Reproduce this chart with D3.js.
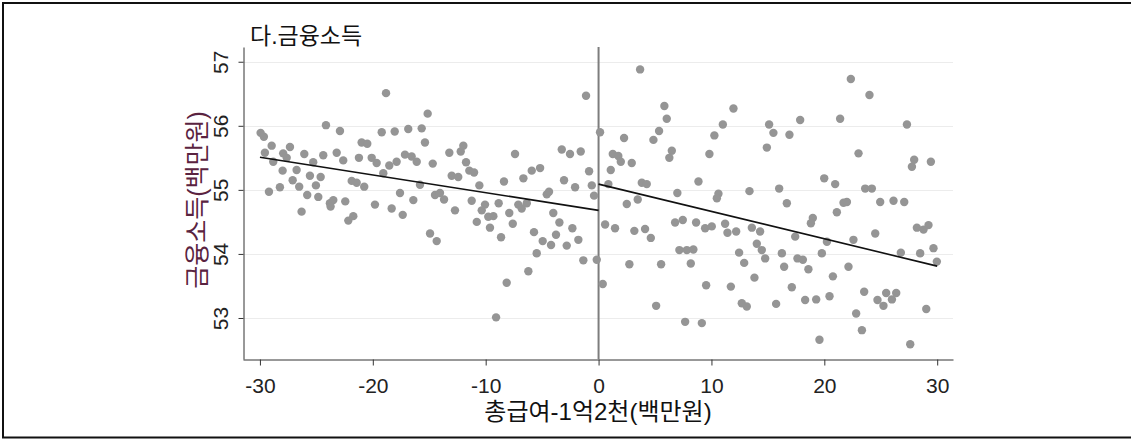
<!DOCTYPE html>
<html>
<head>
<meta charset="utf-8">
<script src="https://cdn.jsdelivr.net/npm/d3@7"></script>
<style>
  body { margin: 0; background: #fff; }
  svg { display: block; }
  .axis path, .axis line { stroke: #333; }
  .axis text { font-family: "Liberation Sans", Arial, sans-serif; font-size: 21px; fill: #222; }
</style>
</head>
<body>
<svg id="chart" width="1131" height="439"></svg>
<script>
// left of cutoff (x < 0)
var leftX = [-29.94,-29.65,-28.96,-29.56,-27.94,-27.34,-27.63,-28.82,-26.07,-25.28,
  -24.15,-22.91,-24.39,-23.20,-22.62,-21.23,-20.99,-20.49,-20.10,-19.66,
  -19.21,-18.83,-18.06,-16.86,-15.67,-15.14,-15.38,-19.07,-18.54,-17.89,
  -17.15,-16.56,-16.11,-14.69,-27.99,-26.75,-29.20,-28.23,-27.10,-26.52,
  -25.57,-24.62,-25.04,-25.81,-24.83,-23.80,-23.50,-23.74,-22.44,-26.31,
  -21.87,-21.43,-20.76,-21.73,-22.17,-19.81,-18.33,-17.35,-17.59,-16.41,
  -15.82,-14.49,-14.93,-14.34,-14.05,-13.69,-13.22,-12.21,-11.98,-11.74,
  -11.45,-11.03,-13.01,-12.43,-10.56,-12.72,-11.24,-10.79,-10.06,-10.35,
  -9.77,-9.32,-9.62,-8.85,-8.38,-7.91,-7.60,-8.64,-7.40,-6.66,
  -5.92,-5.18,-7.11,-6.81,-6.36,-4.59,-4.39,
  -4.01,-3.47,-5.72,-4.95,-4.21,-3.77,-5.48,-6.22,-8.14,-9.08,
  -3.26,-2.53,-1.58,-3.06,-2.08,-0.84,-0.60,-0.40,-1.11,-2.32,-1.79,-2.82,-1.35,-0.16];
var leftY = [55.89,55.83,55.69,55.58,55.57,55.67,55.50,55.44,55.56,55.43,
  56.01,55.92,55.54,55.58,55.46,55.50,55.74,55.72,55.50,55.42,
  55.90,56.51,55.91,55.95,55.96,56.19,55.74,55.26,55.38,55.44,
  55.55,55.52,55.44,55.41,55.30,55.31,54.97,55.04,55.15,55.05,
  55.22,55.20,55.07,54.92,54.89,54.79,54.84,54.74,54.82,54.66,
  55.14,55.11,55.05,54.59,54.52,54.77,54.71,54.61,54.95,54.84,
  55.08,54.92,54.32,54.20,54.95,54.85,55.58,55.60,55.69,55.43,
  55.30,55.27,55.22,55.20,55.07,54.68,54.83,54.50,54.77,54.68,
  54.58,54.59,54.41,54.79,55.13,54.64,54.47,54.26,55.56,55.18,
  55.30,55.34,54.77,54.71,54.79,54.93,54.97,
  54.64,54.49,54.34,54.20,54.14,54.30,54.01,53.73,53.55,53.01,
  55.63,55.56,55.60,55.15,55.04,55.29,55.07,54.91,56.47,54.40,54.22,54.13,53.90,53.91];

// right of cutoff (x >= 0)
var rightX = [0.13,0.37,0.58,1.46,1.08,1.26,0.87,3.68,2.26,1.75,
  1.97,2.94,2.50,3.47,3.83,4.27,3.17,4.12,4.63,2.73,
  5.54,5.10,5.83,6.04,5.36,4.86,6.49,6.27,6.98,6.78,
  7.46,7.16,7.82,8.40,8.17,7.67,9.15,8.64,9.44,10.03,
  8.85,9.82,10.26,11.01,11.95,10.62,10.48,9.53,11.21,11.42,
  12.19,12.45,12.90,11.72,12.69,13.13,13.37,13.58,14.31,14.02,
  14.46,14.76,13.81,15.11,14.91,15.49,16.91,17.86,21.40,22.35,
  24.00,27.32,23.03,27.96,27.76,29.44,16.00,16.68,19.99,20.96,
  23.62,24.21,21.70,22.00,21.11,24.95,26.13,27.08,18.98,18.81,
  17.42,20.23,22.58,24.51,28.20,28.79,29.23,16.24,17.62,18.10,
  18.59,19.78,16.44,20.76,22.14,26.78,28.49,29.67,29.97,17.12,
  15.73,18.30,19.28,20.46,23.53,24.71,25.24,25.48,25.99,26.37,
  22.82,23.33,29.03,19.57,27.61];
var rightY = [55.90,53.53,54.46,54.40,55.31,55.56,55.09,56.88,55.81,55.53,
  55.44,55.42,54.78,54.85,55.11,55.09,54.36,54.39,54.25,53.84,
  53.84,53.19,56.31,56.11,55.92,55.78,55.61,55.50,54.95,54.49,
  54.53,54.06,54.06,54.07,53.85,52.94,52.92,54.49,54.40,54.43,
  55.13,55.56,55.85,56.02,56.27,54.94,54.87,53.51,54.47,54.33,
  54.35,54.02,53.86,53.49,53.23,53.18,54.98,54.41,54.35,54.16,
  54.06,53.93,53.63,56.02,55.66,55.89,55.86,56.09,56.11,56.73,
  56.48,56.02,55.57,55.47,55.36,55.44,55.02,54.79,55.18,55.09,
  55.02,55.02,54.80,54.81,54.65,54.81,54.83,54.81,54.56,54.48,
  54.27,54.19,54.22,54.32,54.41,54.38,54.45,54.01,53.93,53.91,
  53.76,54.01,53.80,53.65,53.80,54.02,54.01,54.09,53.88,53.48,
  53.22,53.28,53.29,53.34,53.41,53.28,53.19,53.39,53.29,53.39,
  53.07,52.81,53.14,52.66,52.59];

// fitted lines, end points
var fitLeftX = [-30, 0];
var fitLeftY = [55.51, 54.68];
var fitRightX = [0, 30];
var fitRightY = [55.09, 53.81];

var xTicks = [-30, -20, -10, 0, 10, 20, 30];
var yTicks = [53, 54, 55, 56, 57];

var titleText = '다.금융소득';
var xTitle = '총급여-1억2천(백만원)';
var yTitle = '금융소득(백만원)';

var svg = d3.select('#chart');

// outer frame (right edge is outside the picture)
svg.append('path')
  .attr('d', 'M1135,3 H3 V437.5 H1135')
  .attr('fill', 'none')
  .attr('stroke', '#111')
  .attr('stroke-width', 2);

var xScale = d3.scaleLinear().domain([-31.5, 31.4]).range([243, 953]);
var yScale = d3.scaleLinear().domain([52.36, 57.23]).range([359, 47]);

// grid
svg.append('g').selectAll('line').data(yTicks).enter().append('line')
  .attr('x1', 244).attr('x2', 953)
  .attr('y1', function(d) { return Math.round(yScale(d)) + 0.5; })
  .attr('y2', function(d) { return Math.round(yScale(d)) + 0.5; })
  .attr('stroke', '#ececec')
  .attr('stroke-width', 1);

// cutoff line
svg.append('line')
  .attr('x1', xScale(0)).attr('x2', xScale(0))
  .attr('y1', 47).attr('y2', 359)
  .attr('stroke', '#7d7d7d')
  .attr('stroke-width', 2);

// plain hyphen for negatives, like the original
var plain = function(d) { return String(d); };
var xAxis = d3.axisBottom(xScale).tickValues(xTicks).tickSize(6).tickSizeOuter(0).tickFormat(plain);
var yAxis = d3.axisLeft(yScale).tickValues(yTicks).tickSize(5).tickSizeOuter(0).tickFormat(plain);

var xAxisGroup = svg.append('g')
  .attr('class', 'axis axis--x')
  .attr('transform', 'translate(0,359.5)')
  .call(xAxis);
xAxisGroup.selectAll('text')
  .attr('y', 19)
  .attr('dy', '0.71em');

var yAxisGroup = svg.append('g')
  .attr('class', 'axis axis--y')
  .attr('transform', 'translate(243.5,0)')
  .call(yAxis);
yAxisGroup.selectAll('text')
  .attr('transform', 'rotate(-90)')
  .attr('x', 0)
  .attr('y', -16)
  .attr('dy', 0)
  .attr('text-anchor', 'middle');

// points
var leftPts = d3.zip(leftX, leftY);
var rightPts = d3.zip(rightX, rightY);
svg.append('g').selectAll('circle').data(leftPts.concat(rightPts)).enter().append('circle')
  .attr('cx', function(d) { return xScale(d[0]); })
  .attr('cy', function(d) { return yScale(d[1]); })
  .attr('r', 4.2)
  .attr('fill', '#959595');

// fit lines
var line = d3.line()
  .x(function(d) { return xScale(d[0]); })
  .y(function(d) { return yScale(d[1]); });
[d3.zip(fitLeftX, fitLeftY), d3.zip(fitRightX, fitRightY)].forEach(function(seg) {
  svg.append('path')
    .attr('d', line(seg))
    .attr('fill', 'none')
    .attr('stroke', '#111')
    .attr('stroke-width', 1.6);
});

// titles
var cjk = '"Liberation Sans", "Noto Sans CJK KR", sans-serif';
svg.append('text')
  .attr('x', 250).attr('y', 44)
  .attr('font-family', cjk)
  .attr('font-size', 23)
  .attr('fill', '#111')
  .text(titleText);

svg.append('text')
  .attr('x', 598).attr('y', 420)
  .attr('text-anchor', 'middle')
  .attr('font-family', cjk)
  .attr('font-size', 24)
  .attr('fill', '#111')
  .text(xTitle);

svg.append('text')
  .attr('transform', 'translate(206,200) rotate(-90)')
  .attr('text-anchor', 'middle')
  .attr('font-family', cjk)
  .attr('font-size', 25)
  .attr('fill', '#5a2340')
  .text(yTitle);
</script>
</body>
</html>
